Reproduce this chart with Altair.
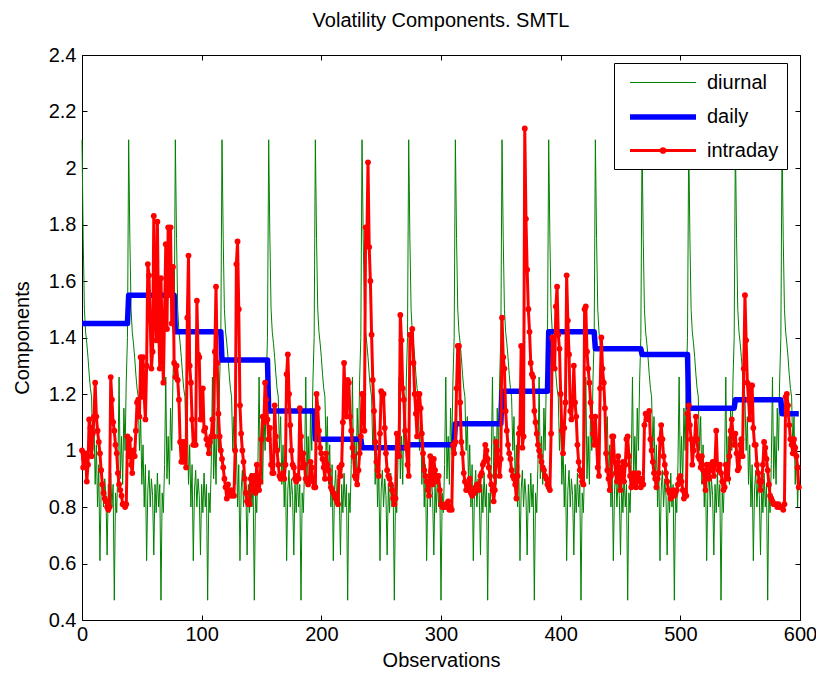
import altair as alt
import pandas as pd

TITLE = "Volatility Components. SMTL"
X_TITLE = "Observations"
Y_TITLE = "Components"
SERIES = ["diurnal", "daily", "intraday"]
COLORS = ["#008000", "#0000ff", "#ff0000"]
LINE_WIDTHS = [1, 5.5, 3]
X_TICKS = [0, 100, 200, 300, 400, 500, 600]
Y_TICKS = [0.4, 0.6, 0.8, 1.0, 1.2, 1.4, 1.6, 1.8, 2.0, 2.2, 2.4]
N_OBS = 600
DAY_LENGTH = 39

# daily component: one level per trading day (39 observations per day)
daily_levels = [1.45, 1.55, 1.42, 1.32, 1.14, 1.04, 1.01, 1.02,
                1.095, 1.21, 1.42, 1.36, 1.34, 1.15, 1.18, 1.13]

# diurnal component: the same intraday profile repeats every day
diurnal_day_profile = [2.10, 1.75, 1.50, 1.42, 1.38, 1.33, 1.27, 1.22, 1.19, 1.00,
                       1.12, 0.88, 1.02, 0.80, 0.95, 0.61, 0.86, 0.93, 0.80, 0.90,
                       0.84, 0.63, 0.88, 0.78, 0.92, 0.80, 0.88, 0.47, 0.85, 0.78,
                       0.95, 1.26, 0.90, 1.05, 0.88, 1.15, 1.00, 1.25, 1.40]

# intraday component, one value per observation
intraday = [
    1.00, 0.94, 0.97, 0.99, 0.89, 0.95, 1.11, 1.08, 0.98, 1.06, 1.12, 1.24, 1.12, 1.07, 1.03, 0.99, 0.93, 0.88, 0.85, 0.83,
    0.82, 0.80, 0.79, 0.80, 1.26, 1.18, 1.10, 1.07, 1.02, 0.99, 0.92, 0.88, 0.86, 0.84, 0.81, 0.81, 0.80, 0.81, 1.05,
    0.98, 1.04, 0.95, 0.92, 1.00, 0.98, 1.07, 1.17, 1.18, 1.12, 1.33, 1.19, 1.33, 1.19, 1.11, 1.30, 1.66, 1.62, 1.46, 1.29,
    1.35, 1.83, 1.50, 1.39, 1.81, 1.45, 1.29, 1.61, 1.40, 1.24, 1.48, 1.73, 1.43, 1.79, 1.55, 1.79, 1.45, 1.65, 1.31,
    1.26, 1.30, 1.25, 1.18, 1.03, 0.96, 1.03, 0.96, 1.03, 0.94, 1.47, 1.69, 1.30, 1.24, 1.11, 1.02, 1.02, 1.02, 1.53, 1.34,
    1.33, 1.11, 1.11, 1.22, 1.07, 1.08, 1.04, 1.02, 0.99, 1.03, 1.05, 1.11, 1.05, 1.35, 1.58, 1.31, 1.13, 1.05, 1.00,
    0.97, 0.94, 0.90, 0.87, 0.83, 0.88, 0.85, 0.84, 0.86, 0.84, 0.84, 1.00, 1.66, 1.74, 1.50, 1.16, 1.06, 1.00, 0.96, 0.90,
    0.85, 0.82, 0.81, 0.81, 0.90, 0.91, 0.86, 0.91, 0.85, 0.95, 0.90, 0.86, 0.89, 1.04, 1.12, 1.10, 1.24, 1.18, 1.11,
    1.04, 1.08, 0.95, 0.92, 0.92, 1.16, 1.05, 1.00, 0.95, 0.91, 0.90, 0.91, 0.92, 0.90, 0.95, 1.27, 1.34, 1.20, 1.09, 1.00,
    0.95, 0.94, 0.90, 0.89, 0.91, 0.90, 1.15, 1.05, 0.94, 0.99, 0.95, 0.90, 0.89, 0.88, 0.90, 0.96, 0.94, 0.89, 0.87,
    0.87, 1.20, 1.15, 1.07, 1.01, 0.99, 0.97, 0.94, 0.90, 0.99, 0.95, 0.93, 0.90, 0.87, 0.86, 0.85, 0.84, 0.83, 0.82, 0.81,
    0.94, 0.91, 0.95, 1.10, 1.31, 1.16, 1.12, 1.25, 1.24, 1.12, 1.07, 1.01, 0.98, 0.91, 0.90, 0.88, 0.93, 0.99, 1.05,
    1.20, 1.20, 1.07, 1.79, 1.73, 2.02, 1.72, 1.60, 1.41, 1.25, 1.14, 1.03, 0.96, 0.93, 0.91, 1.06, 1.21, 1.20, 1.20, 1.08,
    0.99, 0.93, 0.91, 0.90, 0.88, 0.86, 0.83, 0.81, 0.83, 1.06, 1.01, 0.98, 1.48, 1.39, 1.22, 1.18, 1.07, 1.01, 0.95,
    0.91, 1.41, 1.41, 1.43, 1.31, 1.20, 1.13, 1.05, 1.20, 1.20, 1.15, 1.06, 0.99, 0.93, 0.91, 0.89, 0.86, 0.84, 0.98, 0.93,
    0.88, 0.97, 0.93, 0.89, 0.91, 0.91, 0.86, 0.81, 0.80, 0.80, 0.80, 0.81, 0.80, 0.82, 0.79, 0.80, 0.79, 1.02, 0.99,
    1.03, 1.22, 1.37, 1.37, 1.17, 1.03, 0.99, 0.92, 0.89, 0.86, 0.88, 0.86, 0.90, 0.85, 0.84, 0.86, 0.85, 0.87, 0.88, 0.88,
    0.86, 0.91, 0.92, 0.95, 0.96, 1.02, 1.00, 0.97, 0.94, 0.91, 0.88, 0.86, 0.82, 0.86, 1.03, 1.00, 0.95, 0.91, 0.97,
    1.47, 1.33, 1.29, 1.14, 1.07, 1.02, 0.99, 0.97, 0.93, 0.91, 0.90, 0.88, 0.83, 0.91, 1.06, 1.08, 1.37, 1.01, 1.05, 2.14,
    1.82, 1.64, 1.50, 1.42, 1.31, 1.27, 1.26, 1.14, 1.10, 1.06, 1.02, 1.00, 0.98, 0.96, 0.94, 0.93, 0.91, 0.90, 0.88,
    0.87, 0.86, 1.06, 1.40, 1.39, 1.29, 1.51, 1.58, 1.41, 1.36, 1.20, 1.07, 0.99, 1.08, 1.17, 1.62, 1.46, 1.34, 1.14, 1.11,
    1.17, 1.30, 1.17, 1.12, 1.02, 0.96, 0.93, 0.91, 0.89, 0.88, 1.50, 1.51, 1.35, 1.29, 1.24, 1.17, 1.12, 1.06, 1.02,
    1.12, 1.03, 0.94, 0.91, 1.22, 1.40, 1.29, 1.24, 1.15, 0.99, 0.93, 0.90, 0.86, 0.91, 1.05, 1.05, 0.96, 0.92, 0.89, 0.98,
    0.93, 0.86, 0.94, 0.96, 0.89, 0.95, 1.04, 1.05, 0.98, 0.91, 0.87, 0.88, 0.92, 0.91, 0.87, 0.89, 0.92, 0.90, 0.87,
    0.90, 0.88, 1.09, 1.13, 1.11, 1.13, 1.14, 1.04, 1.00, 0.96, 0.92, 0.90, 0.87, 0.90, 0.92, 1.04, 1.09, 1.04, 0.98, 0.95,
    0.92, 0.89, 0.86, 0.85, 0.83, 0.84, 0.86, 0.84, 0.85, 0.86, 0.88, 0.90, 0.91, 0.89, 0.86, 0.83, 0.85, 0.84, 1.13,
    1.16, 1.09, 1.04, 0.95, 1.00, 1.04, 1.12, 1.04, 0.98, 0.97, 0.94, 0.98, 0.93, 0.89, 0.86, 0.95, 0.91, 0.90, 0.95, 0.93,
    0.96, 0.91, 0.96, 1.07, 0.95, 0.93, 0.95, 0.92, 0.89, 0.86, 0.87, 0.95, 0.95, 0.90, 0.98, 1.07, 1.11, 1.06, 1.02,
    1.06, 0.99, 0.93, 0.94, 1.02, 1.04, 0.98, 1.29, 1.55, 1.39, 1.24, 1.18, 1.11, 1.23, 1.23, 1.08, 1.02, 1.02, 0.95, 0.92,
    0.89, 0.86, 0.89, 0.95, 1.03, 1.01, 0.97, 0.93, 0.88, 0.84, 0.83, 0.82, 0.81, 0.81, 0.81, 0.80, 0.81, 0.80, 0.80,
    0.80, 0.79, 0.81, 1.19, 1.20, 1.16, 1.09, 1.04, 1.02, 0.99, 1.04, 1.01, 0.98, 0.94, 0.87,
]

obs = list(range(N_OBS))
diurnal = [diurnal_day_profile[i % DAY_LENGTH] for i in obs]
daily = [daily_levels[i // DAY_LENGTH] for i in obs]

df = pd.DataFrame({
    "obs": obs * 3,
    "value": diurnal + daily + intraday[:N_OBS],
    "series": ["diurnal"] * N_OBS + ["daily"] * N_OBS + ["intraday"] * N_OBS,
})

FONT = "Liberation Sans"
LINE_PATH = "M-3,0L3,0"
DOT_PATH = "M-3,0L3,0M0.17,0A0.17,0.17,0,1,1,-0.17,0A0.17,0.17,0,1,1,0.17,0Z"

x_scale = alt.Scale(domain=[0, 600], nice=False, zero=False)
y_scale = alt.Scale(domain=[0.4, 2.4], nice=False, zero=False)
color_scale = alt.Scale(domain=SERIES, range=COLORS)
width_scale = alt.Scale(type="ordinal", domain=SERIES, range=LINE_WIDTHS)
shape_scale = alt.Scale(domain=SERIES, range=[LINE_PATH, LINE_PATH, DOT_PATH])

legend = alt.Legend(
    title=None, orient="none", legendX=532, legendY=8, direction="vertical",
    padding=8, fillColor="white", strokeColor="black", cornerRadius=0,
    labelFont=FONT, labelFontSize=20, labelColor="black",
    symbolSize=484, symbolOffset=27, labelOffset=30, rowPadding=10,
)

common_axis = dict(offset=-5, tickSize=5, domain=False, grid=False,
                   tickColor="black", tickWidth=1,
                   labelFont=FONT, labelFontSize=20, labelColor="black",
                   titleFont=FONT, titleFontSize=20, titleFontWeight="normal",
                   titleColor="black")

axis_bottom = alt.Axis(orient="bottom", values=X_TICKS, format="d", labelFlush=False,
                       labelPadding=4, title=X_TITLE, titlePadding=6, **common_axis)
axis_left = alt.Axis(orient="left", values=Y_TICKS, format=".1~f", labelPadding=6,
                     title=Y_TITLE, titlePadding=16, **common_axis)
axis_top = alt.Axis(orient="top", values=X_TICKS, labels=False, title=None, **common_axis)
axis_right = alt.Axis(orient="right", values=Y_TICKS, labels=False, title=None, **common_axis)

base = alt.Chart(df)


def series_line(name, x_axis=None, y_axis=None):
    return base.transform_filter(alt.datum.series == name).mark_line(
        strokeJoin="round"
    ).encode(
        x=alt.X("obs:Q", scale=x_scale, axis=x_axis),
        y=alt.Y("value:Q", scale=y_scale, axis=y_axis),
        color=alt.Color("series:N", scale=color_scale, legend=legend),
        strokeWidth=alt.StrokeWidth("series:N", scale=width_scale, legend=legend),
    )


green = series_line("diurnal", axis_bottom, axis_left)
blue = series_line("daily")
red = series_line("intraday")

dots = base.transform_filter(alt.datum.series == "intraday").mark_circle(
    size=34, opacity=1
).encode(
    x=alt.X("obs:Q", scale=x_scale, axis=axis_top),
    y=alt.Y("value:Q", scale=y_scale, axis=axis_right),
    color=alt.Color("series:N", scale=color_scale, legend=legend),
)

legend_shapes = base.transform_filter("datum.obs < 0").mark_point(size=484).encode(
    x=alt.X("obs:Q", scale=x_scale, axis=None),
    y=alt.Y("value:Q", scale=y_scale, axis=None),
    color=alt.Color("series:N", scale=color_scale, legend=legend),
    shape=alt.Shape("series:N", scale=shape_scale, legend=legend),
)

chart = alt.layer(green, blue, red, dots, legend_shapes).resolve_axis(
    x="independent", y="independent"
).properties(
    width=718, height=565,
    autosize=alt.AutoSizeParams(type="none"),
    padding={"left": 74, "top": 47, "right": 16, "bottom": 49},
    title=alt.TitleParams(TITLE, font=FONT, fontSize=20, fontWeight="normal",
                          color="black", anchor="middle", offset=14),
).configure_view(stroke="black", strokeWidth=1)

chart.save("out.html", embed_options={"renderer": "svg", "actions": False})
